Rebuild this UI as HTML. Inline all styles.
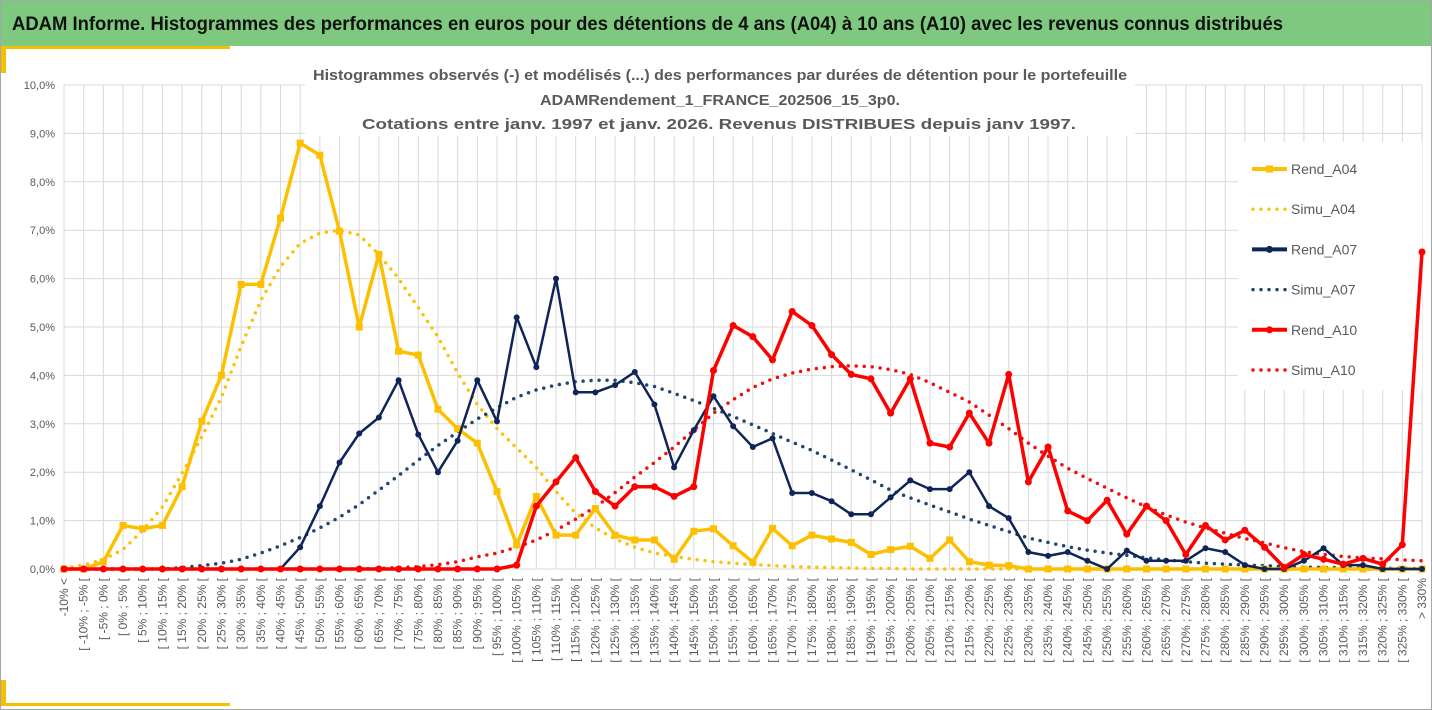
<!DOCTYPE html>
<html><head><meta charset="utf-8"><style>
html,body{margin:0;padding:0;background:#fff;}
svg{display:block;font-family:"Liberation Sans",sans-serif;}
</style></head><body>
<svg id="chart" width="1432" height="710" viewBox="0 0 1432 710" xmlns="http://www.w3.org/2000/svg">
<rect x="0" y="0" width="1432" height="710" fill="#fff"/>
<rect x="0.5" y="0.5" width="1431" height="709" fill="none" stroke="#a6a6a6"/>
<rect x="1" y="1" width="1430" height="45" fill="#7ec97f"/>
<text x="12" y="30" font-size="19" font-weight="bold" fill="#111" textLength="1271" lengthAdjust="spacingAndGlyphs">ADAM Informe. Histogrammes des performances en euros pour des détentions de 4 ans (A04) à 10 ans (A10) avec les revenus connus distribués</text>
<rect x="1" y="46" width="229" height="3" fill="#f5c000"/>
<rect x="1" y="46" width="5" height="27" fill="#f5c000"/>
<rect x="1" y="680" width="5" height="26" fill="#f5c000"/>
<rect x="1" y="703" width="229" height="3" fill="#f5c000"/>
<g id="grid"></g>
<g id="titles">
<rect x="305" y="58" width="830" height="78" fill="#fff"/>
<text x="720" y="80" text-anchor="middle" font-size="15" font-weight="bold" fill="#595959" textLength="814" lengthAdjust="spacingAndGlyphs">Histogrammes observés (-) et modélisés (...) des performances par durées de détention pour le portefeuille</text>
<text x="720" y="105" text-anchor="middle" font-size="15" font-weight="bold" fill="#595959" textLength="360" lengthAdjust="spacingAndGlyphs">ADAMRendement_1_FRANCE_202506_15_3p0.</text>
<text x="719" y="129" text-anchor="middle" font-size="15" font-weight="bold" fill="#595959" textLength="714" lengthAdjust="spacingAndGlyphs">Cotations entre janv. 1997 et janv. 2026. Revenus DISTRIBUES depuis janv 1997.</text>
</g>
<rect x="1238" y="142" width="184" height="248" fill="#fff"/>
<g id="series"></g>
<g id="legend"></g>
<g id="xlabels"></g>
</svg>
<script>
const categories = ["-10% <"];
for (let k = -10; k < 330; k += 5) categories.push("[ " + k + "% ; " + (k + 5) + "% [");
categories.push("> 330%");
const yTicks = [0,1,2,3,4,5,6,7,8,9,10];
const rendA04 = [0,0,0.15,0.9,0.83,0.9,1.7,3.05,4.0,5.88,5.88,7.25,8.8,8.55,6.98,5.0,6.5,4.5,4.42,3.3,2.9,2.6,1.6,0.5,1.5,0.7,0.7,1.25,0.7,0.6,0.6,0.2,0.78,0.83,0.48,0.14,0.84,0.48,0.7,0.62,0.55,0.3,0.4,0.47,0.22,0.6,0.15,0.08,0.07,0,0,0,0,0,0,0,0,0,0,0,0,0,0,0,0,0,0,0,0,0];
const simuA04 = [0.02,0.08,0.2,0.4,0.8,1.28,1.98,2.73,3.55,4.6,5.55,6.25,6.73,6.94,7.0,6.9,6.5,6.0,5.4,4.8,4.05,3.4,2.9,2.5,2.1,1.6,1.15,0.85,0.62,0.45,0.33,0.26,0.2,0.15,0.12,0.09,0.07,0.05,0.04,0.03,0.02,0.01,0.01,0,0,0,0,0,0,0,0,0,0,0,0,0,0,0,0,0,0,0,0,0,0,0,0,0,0,0];
const rendA07 = [0,0,0,0,0,0,0,0,0,0,0,0,0.45,1.3,2.2,2.8,3.13,3.9,2.78,2.0,2.65,3.9,3.05,5.2,4.17,6.0,3.65,3.65,3.8,4.07,3.4,2.1,2.87,3.57,2.95,2.52,2.7,1.57,1.57,1.4,1.13,1.13,1.48,1.83,1.65,1.65,2.0,1.3,1.05,0.35,0.27,0.35,0.17,0,0.38,0.17,0.17,0.17,0.43,0.35,0.08,0,0,0.17,0.43,0.08,0.08,0,0,0];
const simuA07 = [0,0,0,0,0,0,0.03,0.07,0.12,0.2,0.33,0.48,0.65,0.85,1.07,1.33,1.63,1.93,2.25,2.55,2.83,3.1,3.33,3.55,3.7,3.8,3.87,3.9,3.9,3.85,3.77,3.63,3.48,3.32,3.15,2.98,2.8,2.62,2.45,2.25,2.05,1.84,1.63,1.47,1.32,1.18,1.03,0.9,0.77,0.64,0.55,0.46,0.39,0.33,0.28,0.23,0.19,0.15,0.12,0.1,0.08,0.07,0.05,0.04,0.03,0.03,0.02,0.02,0.01,0.01];
const rendA10 = [0,0,0,0,0,0,0,0,0,0,0,0,0,0,0,0,0,0,0,0,0,0,0,0.08,1.3,1.8,2.3,1.6,1.3,1.7,1.7,1.5,1.7,4.1,5.03,4.8,4.32,5.32,5.03,4.43,4.02,3.93,3.22,3.93,2.6,2.52,3.22,2.6,4.02,1.8,2.52,1.2,1.0,1.42,0.72,1.3,1.0,0.3,0.9,0.6,0.8,0.45,0.03,0.3,0.2,0.1,0.22,0.1,0.5,6.55];
const simuA10 = [0,0,0,0,0,0,0,0,0,0,0,0,0,0,0,0,0.01,0.03,0.05,0.09,0.15,0.25,0.33,0.45,0.6,0.8,1.03,1.28,1.58,1.9,2.2,2.52,2.87,3.22,3.5,3.75,3.93,4.05,4.13,4.18,4.2,4.18,4.12,4.02,3.85,3.65,3.45,3.18,2.9,2.6,2.33,2.08,1.87,1.67,1.47,1.28,1.12,0.97,0.85,0.74,0.63,0.54,0.44,0.36,0.3,0.26,0.23,0.21,0.19,0.17];

const NS = "http://www.w3.org/2000/svg";
const X0 = 64, X1 = 1422, Y0 = 569, YTOP = 85, YMAX = 10;
function xs(i){ return X0 + i * (X1 - X0) / (categories.length - 1); }
function ys(v){ return Y0 - v / YMAX * (Y0 - YTOP); }
function mk(tag, attrs, parent){ const e = document.createElementNS(NS, tag); for (const k in attrs) e.setAttribute(k, attrs[k]); parent.appendChild(e); return e; }

const grid = document.getElementById("grid");
yTicks.forEach(t => {
  const l = mk("line", {x1: X0, x2: X1, y1: ys(t), y2: ys(t), stroke: "#d9d9d9", "stroke-width": 1}, grid);
  
  
  const tx = mk("text", {x: 55, y: ys(t) + 4, "text-anchor": "end", "font-size": 11, fill: "#595959"}, grid);
  
  
  tx.textContent = t.toFixed(1).replace(".", ",") + "%";
});
categories.forEach((c, i) => {
  const l = mk("line", {x1: xs(i), x2: xs(i), y1: YTOP, y2: Y0, stroke: "#d9d9d9", "stroke-width": 1}, grid);
  
  
});
const xl = document.getElementById("xlabels");
categories.forEach((c, i) => {
  const t = mk("text", {x: 0, y: 0, "text-anchor": "end", "font-size": 12, fill: "#595959", transform: "translate(" + (xs(i) + 4) + ",578) rotate(-90)"}, xl);
  
  
  t.textContent = c;
});

const series = document.getElementById("series");
function pts(arr){ return arr.map((v, i) => xs(i).toFixed(1) + "," + ys(v).toFixed(1)).join(" "); }
function dotted(arr, color, name){
  const p = mk("polyline", {points: pts(arr), fill: "none", stroke: color, "stroke-width": 3.5, "stroke-linecap": "round", "stroke-dasharray": "0 8"}, series);
  
  
}
function solid(arr, color, w, marker, name){
  const p = mk("polyline", {points: pts(arr), fill: "none", stroke: color, "stroke-width": w, "stroke-linejoin": "round"}, series);
  
  
  arr.forEach((v, i) => {
    let m;
    if (marker === "square") m = mk("rect", {x: xs(i) - 3.5, y: ys(v) - 3.5, width: 7, height: 7, fill: color}, series);
    else m = mk("circle", {cx: xs(i), cy: ys(v), r: marker, fill: color}, series);
    
    
  });
}
dotted(simuA04, "#fcc20a", "simu-a04-line");
dotted(simuA07, "#23466f", "simu-a07-line");
dotted(simuA10, "#f01010", "simu-a10-line");
solid(rendA04, "#fcc000", 3.5, "square", "rend-a04-line");
solid(rendA07, "#0f2557", 2.5, 3, "rend-a07-line");
solid(rendA10, "#ff0000", 3.5, 3.5, "rend-a10-line");

const legendItems = [
  ["Rend_A04", "#fcc000", "solid", "square"],
  ["Simu_A04", "#fcc20a", "dot", null],
  ["Rend_A07", "#0f2557", "solid", "circle"],
  ["Simu_A07", "#23466f", "dot", null],
  ["Rend_A10", "#ff0000", "solid", "circle"],
  ["Simu_A10", "#f01010", "dot", null]
];
const lg = document.getElementById("legend");
legendItems.forEach((it, k) => {
  const y = 169 + k * 40.2;
  const g = mk("g", {}, lg);
  
  
  if (it[2] === "solid") {
    mk("line", {x1: 1252, x2: 1287, y1: y, y2: y, stroke: it[1], "stroke-width": 4}, g);
    if (it[3] === "square") mk("rect", {x: 1266, y: y - 3.5, width: 7, height: 7, fill: it[1]}, g);
    else mk("circle", {cx: 1269.5, cy: y, r: 3.5, fill: it[1]}, g);
  } else {
    mk("line", {x1: 1253, x2: 1287, y1: y, y2: y, stroke: it[1], "stroke-width": 3.5, "stroke-linecap": "round", "stroke-dasharray": "0 8"}, g);
  }
  const t = mk("text", {x: 1291, y: y + 5, "font-size": 14, fill: "#595959"}, g);
  t.textContent = it[0];
});
</script>
</body></html>
